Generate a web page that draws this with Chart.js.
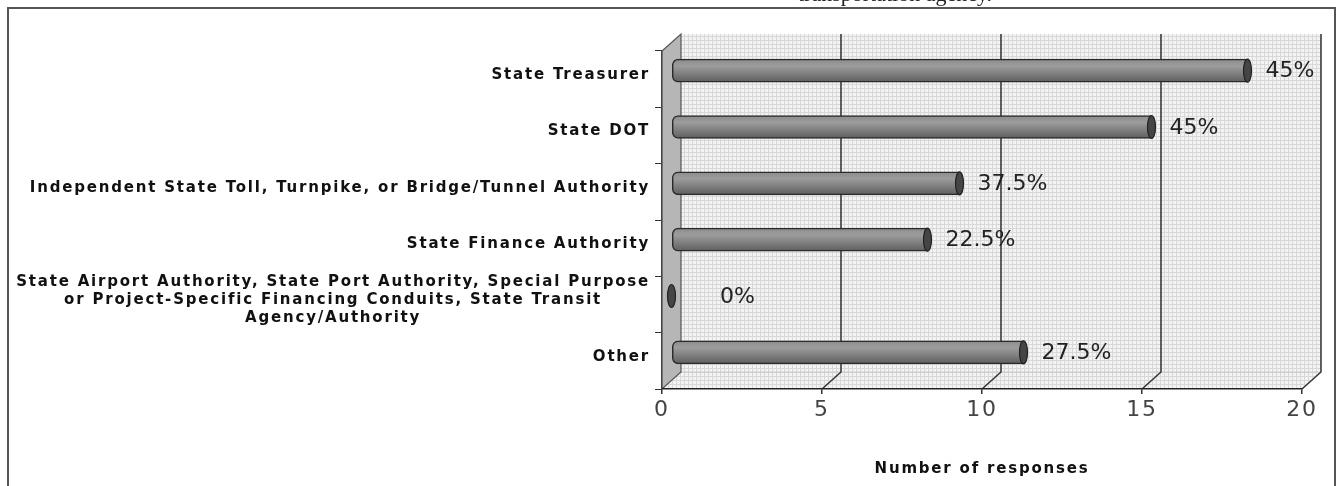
<!DOCTYPE html>
<html>
  <head>
    <title>Number of responses</title>
    <script src="https://cdn.jsdelivr.net/npm/chart.js"></script>
    <style>
      body { margin: 0; background: #ffffff; }
      canvas { display: block; }
    </style>
  </head>
  <body>
    <canvas id="myChart" width="1337" height="486"></canvas>
  </body>
</html>
<script>
//------------------------------------------------------------------------------
// data
//------------------------------------------------------------------------------
var categories = [
  'State Treasurer',
  'State DOT',
  'Independent State Toll, Turnpike, or Bridge/Tunnel Authority',
  'State Finance Authority',
  ['State Airport Authority, State Port Authority, Special Purpose',
   'or Project-Specific Financing Conduits, State Transit',
   'Agency/Authority'],
  'Other'
];
var responses = [18, 15, 9, 8, 0, 11];
var percentLabels = ['45%', '45%', '37.5%', '22.5%', '0%', '27.5%'];
var xTicks = [0, 5, 10, 15, 20];
var headingText = 'transportation agency.';
var axisTitle = 'Number of responses';

//------------------------------------------------------------------------------
// 3D look settings
//------------------------------------------------------------------------------
var depthX = 19;
var depthY = -17;
var barShiftX = 9.5;
var barShiftY = -8.5;
var labelFont = 'bold 15px "DejaVu Sans"';
var labelSpacing = '1.8px';

function makePattern(ctx) {
  var c = document.createElement('canvas');
  c.width = 4; c.height = 4;
  var p = c.getContext('2d');
  p.fillStyle = '#f3f3f3';
  p.fillRect(0, 0, 4, 4);
  p.fillStyle = '#d8d8d8';
  p.fillRect(0, 0, 4, 1);
  p.fillRect(0, 0, 1, 4);
  return ctx.createPattern(c, 'repeat');
}

//------------------------------------------------------------------------------
// walls, floor and back grid lines
//------------------------------------------------------------------------------
var wallPlugin = {
  id: 'walls',
  beforeDraw: function(chart) {
    var ctx = chart.ctx;
    var a = chart.chartArea;
    var xs = chart.scales.x;

    // outer frame
    ctx.save();
    ctx.strokeStyle = '#555';
    ctx.lineWidth = 2;
    ctx.strokeRect(8, 8, 1327, 500);
    ctx.restore();

    var pat = makePattern(ctx);
    ctx.save();
    // back wall
    ctx.fillStyle = pat;
    ctx.fillRect(a.left + depthX, a.top + depthY, a.right - a.left, a.bottom - a.top);
    // floor
    ctx.beginPath();
    ctx.moveTo(a.left, a.bottom);
    ctx.lineTo(a.right, a.bottom);
    ctx.lineTo(a.right + depthX, a.bottom + depthY);
    ctx.lineTo(a.left + depthX, a.bottom + depthY);
    ctx.closePath();
    ctx.fill();
    ctx.strokeStyle = '#c8c8c8';
    ctx.lineWidth = 1;
    ctx.beginPath();
    ctx.moveTo(a.left + depthX, a.bottom + depthY);
    ctx.lineTo(a.right + depthX, a.bottom + depthY);
    ctx.stroke();

    // left wall
    ctx.beginPath();
    ctx.moveTo(a.left, a.top);
    ctx.lineTo(a.left + depthX, a.top + depthY);
    ctx.lineTo(a.left + depthX, a.bottom + depthY);
    ctx.lineTo(a.left, a.bottom);
    ctx.closePath();
    ctx.fillStyle = '#b6b6b6';
    ctx.fill();
    ctx.strokeStyle = '#555';
    ctx.lineWidth = 1.2;
    ctx.stroke();

    // grid lines on back wall + floor diagonals
    ctx.strokeStyle = '#333';
    ctx.lineWidth = 1.5;
    xTicks.forEach(function(v) {
      if (v === 0) return;
      var fx = xs.getPixelForValue(v);
      ctx.beginPath();
      ctx.moveTo(fx, a.bottom);
      ctx.lineTo(fx + depthX, a.bottom + depthY);
      ctx.lineTo(fx + depthX, a.top + depthY);
      ctx.stroke();
    });
    ctx.restore();

    ctx.letterSpacing = labelSpacing;
  },
  beforeDatasetsDraw: function(chart) {
    chart.ctx.save();
    chart.ctx.translate(barShiftX, barShiftY);
  },
  afterDatasetsDraw: function(chart) {
    var ctx = chart.ctx;
    var meta = chart.getDatasetMeta(0);
    // cylinder end caps
    meta.data.forEach(function(bar) {
      ctx.beginPath();
      ctx.ellipse(bar.x, bar.y, 4, bar.height / 2, 0, 0, Math.PI * 2);
      ctx.fillStyle = '#454545';
      ctx.fill();
      ctx.strokeStyle = '#222';
      ctx.lineWidth = 1.2;
      ctx.stroke();
    });
    ctx.restore();

    // value labels
    ctx.save();
    ctx.letterSpacing = '0px';
    ctx.font = '22px "DejaVu Sans"';
    ctx.fillStyle = '#222';
    ctx.textAlign = 'left';
    ctx.textBaseline = 'middle';
    meta.data.forEach(function(bar, i) {
      var lx = Math.max(bar.x + barShiftX + 18, chart.chartArea.left + 58);
      ctx.fillText(percentLabels[i], lx, bar.y + barShiftY + 1);
    });
    ctx.restore();
  },
  afterDraw: function(chart) {
    var ctx = chart.ctx;
    var ys = chart.scales.y;
    ctx.save();
    // category labels
    ctx.letterSpacing = labelSpacing;
    ctx.font = labelFont;
    ctx.fillStyle = '#111';
    ctx.textBaseline = 'middle';
    var right = chart.chartArea.left - 12;
    categories.forEach(function(lab, i) {
      var cy = ys.getPixelForValue(i) - 4;
      if (Array.isArray(lab)) {
        var w = 0;
        lab.forEach(function(s) { w = Math.max(w, ctx.measureText(s).width); });
        var cx = right - w / 2;
        ctx.textAlign = 'center';
        lab.forEach(function(s, k) {
          ctx.fillText(s, cx, cy + (k - (lab.length - 1) / 2) * 18);
        });
      } else {
        ctx.textAlign = 'right';
        ctx.fillText(lab, right, cy);
      }
    });
    // heading cut by top edge
    ctx.letterSpacing = '0px';
    ctx.font = '22px "Liberation Serif"';
    ctx.fillStyle = '#222';
    ctx.textAlign = 'center';
    ctx.textBaseline = 'alphabetic';
    ctx.fillText(headingText, 895, 1);
    ctx.restore();
  }
};

//------------------------------------------------------------------------------
// chart
//------------------------------------------------------------------------------
var ctx = document.getElementById('myChart').getContext('2d');
var chart = new Chart(ctx, {
  type: 'bar',
  data: {
    labels: categories,
    datasets: [{
      data: responses,
      barThickness: 23,
      backgroundColor: function(c) {
        var ys = c.chart.scales.y;
        var yPix = ys ? ys.getPixelForValue(c.dataIndex) : NaN;
        if (!isFinite(yPix)) return '#808080';
        var g = c.chart.ctx.createLinearGradient(0, yPix - 11.5, 0, yPix + 11.5);
        g.addColorStop(0, '#8c8c8c');
        g.addColorStop(0.3, '#9c9c9c');
        g.addColorStop(1, '#5e5e5e');
        return g;
      },
      borderColor: '#2a2a2a',
      borderWidth: 1.5,
      borderSkipped: false,
      borderRadius: { topLeft: 6, bottomLeft: 6, topRight: 0, bottomRight: 0 }
    }]
  },
  options: {
    indexAxis: 'y',
    responsive: false,
    animation: false,
    devicePixelRatio: 1,
    layout: { padding: { top: 51, right: 35, left: 0, bottom: 0 } },
    plugins: {
      legend: { display: false },
      tooltip: { enabled: false }
    },
    scales: {
      x: {
        min: 0,
        max: 20,
        afterBuildTicks: function(scale) {
          scale.ticks = xTicks.map(function(v) { return { value: v }; });
        },
        afterFit: function(scale) { scale.height = 97; },
        grid: { drawOnChartArea: false, drawTicks: true, tickLength: 5, color: '#333', lineWidth: 1.5 },
        border: { color: '#222', width: 1.5 },
        ticks: { font: { family: 'DejaVu Sans', size: 22 }, color: '#444', padding: 3, maxRotation: 0 },
        title: {
          display: true,
          text: axisTitle,
          font: { family: 'DejaVu Sans', size: 15, weight: 'bold' },
          color: '#111',
          padding: { top: 0, bottom: 8 }
        }
      },
      y: {
        afterFit: function(scale) { scale.width = 662; },
        grid: { offset: true, drawOnChartArea: false, drawTicks: true, tickLength: 7, color: '#333' },
        border: { color: '#444', width: 1.2 },
        ticks: { display: false }
      }
    }
  },
  plugins: [wallPlugin]
});
</script>
